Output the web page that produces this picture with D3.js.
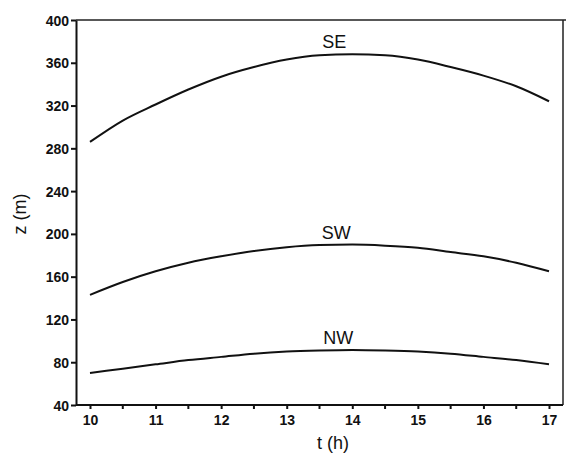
<!DOCTYPE html>
<html lang="en">
<head>
<meta charset="UTF-8">
<title>z(t)</title>
<style>
  * { margin: 0; padding: 0; }
  body { background: #fff; width: 566px; height: 457px; overflow: hidden; }
  svg { display: block; font-family: "Liberation Sans", Arial, sans-serif; }
  .tick text { font-weight: bold; font-size: 14px; fill: #111; }
  .tick line, .domain { stroke: #111; stroke-width: 2px; }
  .curve { fill: none; stroke: #111; stroke-width: 2px; }
  .label { font-size: 18px; fill: #111; }
  .title { font-size: 18px; fill: #111; }
</style>
</head>
<body>
<svg id="svg" width="566" height="457"></svg>
<script src="https://d3js.org/d3.v7.min.js"></script>
<script>
// hours
const hours = [10, 10.5, 11, 11.5, 12, 12.5, 13, 13.5, 14, 14.5, 15, 15.5, 16, 16.5, 17];
// z (m) for each site
const seSeries = [286, 306, 321, 335, 347, 356, 363, 367, 368, 367, 363, 356, 348, 338, 324];
const swSeries = [143, 155, 165, 173, 179, 184, 187.5, 189.5, 190, 189, 187, 183, 179, 173, 165];
const nwSeries = [70, 74, 78, 82, 85, 88, 90, 91, 91.5, 91, 90, 88, 85, 82, 78];
const seriesNames = ['SE', 'SW', 'NW'];
const yTicks = [40, 80, 120, 160, 200, 240, 280, 320, 360, 400];
const xTicks = [10, 11, 12, 13, 14, 15, 16, 17];
const xMinor = [10.5, 11.5, 12.5, 13.5, 14.5, 15.5, 16.5];

const svg = d3.select('#svg');
const plotL = 76, plotR = 563, plotT = 20, plotB = 405;

const x = d3.scaleLinear().domain([10, 17]).range([90, 549]);
const y = d3.scaleLinear().domain([40, 400]).range([plotB, plotT]);

// frame (top + right)
svg.append('path')
  .attr('d', `M${plotL},${plotT}H566M${plotR},${plotT}V${plotB}`)
  .attr('fill', 'none').attr('stroke', '#222').attr('stroke-width', 1.5);

// x axis
const xAxis = svg.append('g').attr('transform', `translate(0,${plotB})`)
  .call(d3.axisBottom(x).tickValues(xTicks).tickSize(4).tickSizeOuter(0).tickPadding(6).tickFormat(d3.format('d')));
xAxis.select('.domain').attr('d', `M${plotL},0H${plotR}`);
xAxis.selectAll('.minor').data(xMinor).join('line').attr('class', 'minor')
  .attr('x1', d => x(d)).attr('x2', d => x(d)).attr('y1', 0).attr('y2', 4)
  .attr('stroke', '#111').attr('stroke-width', 2);

// y axis
const yAxis = svg.append('g').attr('transform', `translate(${plotL},0)`)
  .call(d3.axisLeft(y).tickValues(yTicks).tickSize(5).tickSizeOuter(0).tickPadding(2));
yAxis.selectAll('.tick text').attr('dy', '0.36em');

// curves
const allSeries = [seSeries, swSeries, nwSeries];
const line = d3.line().x((d, i) => x(hours[i])).y(d => y(d)).curve(d3.curveMonotoneX);
svg.selectAll('.curve').data(allSeries).join('path')
  .attr('class', 'curve').attr('d', d => line(d));

// series labels above each peak
svg.selectAll('.label').data(allSeries).join('text')
  .attr('class', 'label')
  .attr('x', (d, i) => x(14) - 18 + i * 2)
  .attr('y', d => y(d3.max(d)) - 6)
  .attr('text-anchor', 'middle')
  .text((d, i) => seriesNames[i]);

// axis titles
svg.append('text').attr('class', 'title')
  .attr('x', 333).attr('y', 449).attr('text-anchor', 'middle').text('t (h)');
svg.append('text').attr('class', 'title')
  .attr('transform', 'translate(26,214) rotate(-90)').attr('text-anchor', 'middle').text('z (m)');
</script>
</body>
</html>
